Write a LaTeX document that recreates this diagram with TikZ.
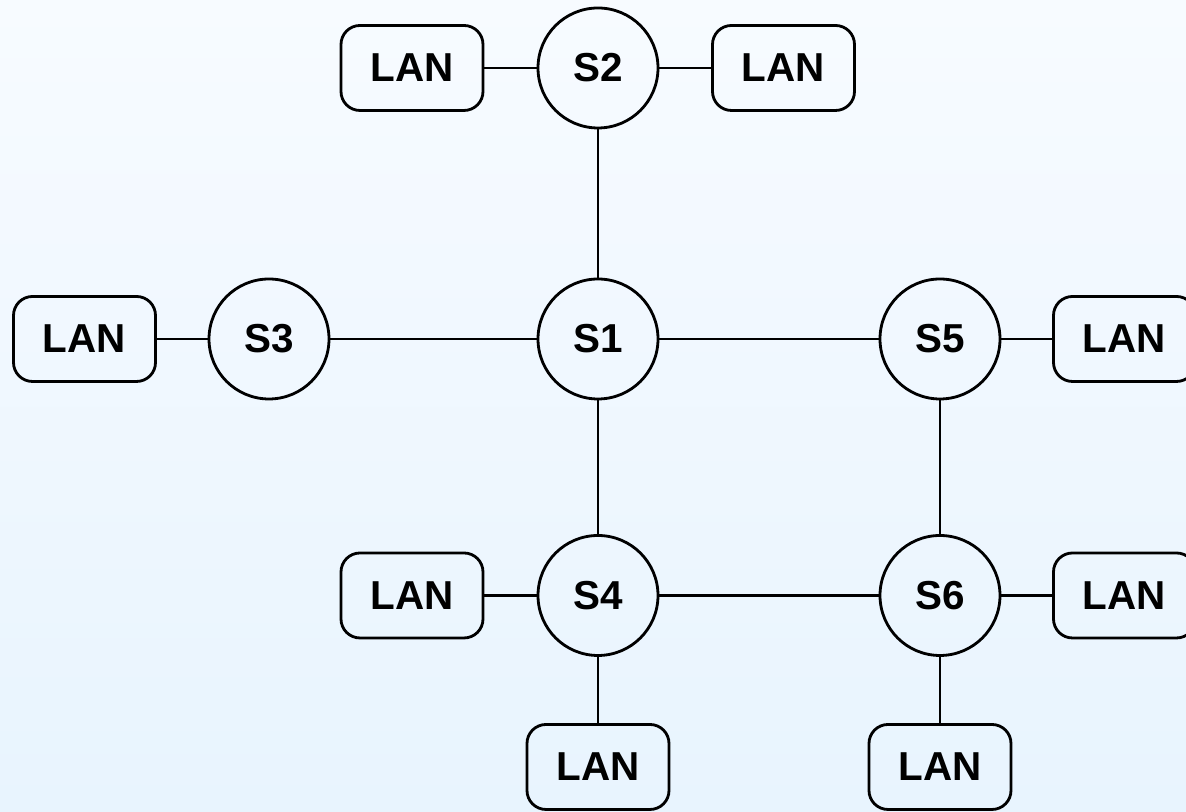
\documentclass[tikz,border=0pt]{standalone}
\usepackage{fontspec}
\setmainfont{Liberation Sans}
\definecolor{bgtop}{RGB}{247,251,255}
\definecolor{bgbot}{RGB}{232,244,254}

\begin{document}
\begin{tikzpicture}[scale=1,
  sw/.style={circle,draw,line width=0.8pt,minimum size=1.2cm,inner sep=0pt,
    font=\fontsize{11.5}{13}\selectfont\bfseries},
  lan/.style={rectangle,draw,rounded corners=0.19cm,line width=0.8pt,
    minimum width=1.42cm,minimum height=0.85cm,inner sep=0pt,
    font=\fontsize{11.5}{13}\selectfont\bfseries},
  link/.style={line width=0.8pt}]
  % \draw [help lines] (0,0) grid (12,8);
  \useasboundingbox (0,0) rectangle (11.86,8.12);
  \shade[top color=bgtop,bottom color=bgbot] (0,0) rectangle (11.86,8.12);

  % 交换机
  \node[sw] (s1) at (5.98,4.73) {S1};
  \node[sw] (s2) at (5.98,7.44) {S2};
  \node[sw] (s3) at (2.69,4.73) {S3};
  \node[sw] (s5) at (9.40,4.73) {S5};
  \node[sw] (s4) at (5.98,2.165) {S4};
  \node[sw] (s6) at (9.40,2.165) {S6};

  % 局域网
  \node[lan] (lan2a) at (4.12,7.44) {LAN};
  \node[lan] (lan2b) at (7.835,7.44) {LAN};
  \node[lan] (lan3) at (0.845,4.73) {LAN};
  \node[lan] (lan5) at (11.245,4.73) {LAN};
  \node[lan] (lan4a) at (4.12,2.165) {LAN};
  \node[lan] (lan4b) at (5.98,0.45) {LAN};
  \node[lan] (lan6a) at (11.245,2.165) {LAN};
  \node[lan] (lan6b) at (9.40,0.45) {LAN};

  % 主干
  \draw[link] (s2) -- (s1);
  \draw[link] (s3) -- (s1);
  \draw[link] (s1) -- (s5);
  \draw[link] (s1) -- (s4);
  \draw[link] (s5) -- (s6);
  \draw[link] (s4) -- (s6);

  % 接入
  \draw[link] (lan2a) -- (s2);
  \draw[link] (s2) -- (lan2b);
  \draw[link] (lan3) -- (s3);
  \draw[link] (s5) -- (lan5);
  \draw[link] (lan4a) -- (s4);
  \draw[link] (s4) -- (lan4b);
  \draw[link] (s6) -- (lan6a);
  \draw[link] (s6) -- (lan6b);
\end{tikzpicture}
\end{document}
